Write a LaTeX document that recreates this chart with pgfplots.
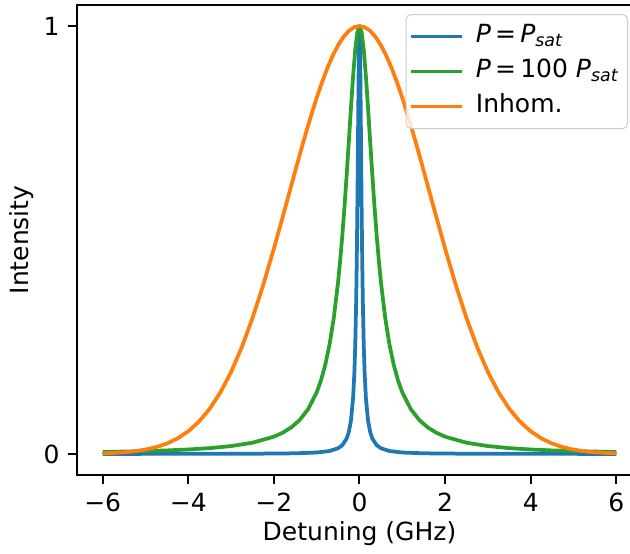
\documentclass[border=0pt]{standalone}
\usepackage{fontspec}
\setmainfont{DejaVu Sans}
\usepackage{pgfplots}
\pgfplotsset{compat=1.18}
\definecolor{c0}{HTML}{1F77B4}
\definecolor{c1}{HTML}{FF7F0E}
\definecolor{c2}{HTML}{2CA02C}
\begin{document}
\fontsize{10bp}{12bp}\selectfont
\begin{tikzpicture}
\begin{axis}[
  scale only axis, width=226bp, height=188.3bp,
  xmin=-6.6, xmax=6.6, ymin=-0.05, ymax=1.05,
  xtick={-6,-4,-2,0,2,4,6}, xticklabels={−6,−4,−2,0,2,4,6},
  ytick={0,1}, yticklabels={0,1},
  tick pos=left, tick align=outside, major tick length=3.5bp,
  every tick/.style={black, line width=0.8bp},
  axis line style={line width=0.8bp},
  xlabel={Detuning (GHz)}, ylabel={Intensity},
  every axis x label/.style={at={(rel axis cs:0.5,0)}, yshift=-23.4bp, anchor=center},
  every axis y label/.style={at={(rel axis cs:0,0.5)}, xshift=-22bp, rotate=90, anchor=center},
  legend cell align=left,
  legend style={at={(1,1)}, anchor=north east, xshift=-5.6bp, yshift=-3.8bp,
    draw=black!20, rounded corners=2bp, fill=white, fill opacity=0.8, text opacity=1,
    inner xsep=1.2bp, inner ysep=1.8bp, row sep=0bp,
    nodes={inner xsep=2bp, inner ysep=2bp, text height=7.5bp, text depth=2.5bp}},
  legend image code/.code={\draw[#1] (0bp,0bp) -- (20.4bp,0bp); \path (23.2bp,0bp);},
  every axis plot/.append style={line width=1.5bp, line join=round},
]
\addplot[c0] coordinates {
(-6,0.00009) (-4,0.00021) (-3,0.00037) (-2,0.00084) (-1.5,0.00149) (-1,0.00334) (-0.7,0.00682) (-0.5,0.0133) (-0.4,0.0206) (-0.3,0.0360) (-0.25,0.0511) (-0.2,0.0776) (-0.15,0.1301) (-0.12,0.1894) (-0.1,0.2517) (-0.08,0.3445) (-0.07,0.4070) (-0.06,0.4831) (-0.05,0.5737) (-0.04,0.6777) (-0.03,0.7889) (-0.02,0.8937) (-0.01,0.9711) (0,1)
(0.01,0.9711) (0.02,0.8937) (0.03,0.7889) (0.04,0.6777) (0.05,0.5737) (0.06,0.4831) (0.07,0.4070) (0.08,0.3445) (0.1,0.2517) (0.12,0.1894) (0.15,0.1301) (0.2,0.0776) (0.25,0.0511) (0.3,0.0360) (0.4,0.0206) (0.5,0.0133) (0.7,0.00682) (1,0.00334) (1.5,0.00149) (2,0.00084) (3,0.00037) (4,0.00021) (6,0.00009)
};
\addlegendentry{\textit{P}\,=\,\textit{P}\textsubscript{\textit{sat}}}
\addplot[c2] coordinates {
(-6,0.00465) (-5.5,0.00553) (-5,0.00668) (-4.5,0.00823) (-4,0.01040) (-3.5,0.01354) (-3,0.01834) (-2.5,0.02619) (-2,0.04033) (-1.8,0.04932) (-1.6,0.06162) (-1.4,0.07899) (-1.2,0.10453) (-1,0.14391) (-0.9,0.17186) (-0.8,0.20802) (-0.7,0.25543) (-0.6,0.31832) (-0.5,0.40205) (-0.45,0.45359) (-0.4,0.51235) (-0.35,0.57845) (-0.3,0.65130) (-0.25,0.72897) (-0.2,0.80786) (-0.15,0.88195) (-0.1,0.94385) (-0.05,0.98535) (0,1)
(0.05,0.98535) (0.1,0.94385) (0.15,0.88195) (0.2,0.80786) (0.25,0.72897) (0.3,0.65130) (0.35,0.57845) (0.4,0.51235) (0.45,0.45359) (0.5,0.40205) (0.6,0.31832) (0.7,0.25543) (0.8,0.20802) (0.9,0.17186) (1,0.14391) (1.2,0.10453) (1.4,0.07899) (1.6,0.06162) (1.8,0.04932) (2,0.04033) (2.5,0.02619) (3,0.01834) (3.5,0.01354) (4,0.01040) (4.5,0.00823) (5,0.00668) (5.5,0.00553) (6,0.00465)
};
\addlegendentry{\textit{P}\,=\,100 \textit{P}\textsubscript{\textit{sat}}}
\addplot[c1] coordinates {
(-6,0.00134) (-5.75,0.00231) (-5.5,0.00387) (-5.25,0.00634) (-5,0.01014) (-4.75,0.01587) (-4.5,0.02426) (-4.25,0.03626) (-4,0.05295) (-3.75,0.07557) (-3.5,0.10542) (-3.25,0.14373) (-3,0.19148) (-2.75,0.24935) (-2.5,0.31733) (-2.25,0.39464) (-2,0.47970) (-1.75,0.56983) (-1.5,0.66150) (-1.375,0.70665) (-1.25,0.75056) (-1.125,0.79259) (-1,0.83223) (-0.875,0.86883) (-0.75,0.90185) (-0.625,0.93077) (-0.5,0.95513) (-0.375,0.97450) (-0.25,0.98859) (-0.125,0.99713) (0,1)
(0.125,0.99713) (0.25,0.98859) (0.375,0.97450) (0.5,0.95513) (0.625,0.93077) (0.75,0.90185) (0.875,0.86883) (1,0.83223) (1.125,0.79259) (1.25,0.75056) (1.375,0.70665) (1.5,0.66150) (1.75,0.56983) (2,0.47970) (2.25,0.39464) (2.5,0.31733) (2.75,0.24935) (3,0.19148) (3.25,0.14373) (3.5,0.10542) (3.75,0.07557) (4,0.05295) (4.25,0.03626) (4.5,0.02426) (4.75,0.01587) (5,0.01014) (5.25,0.00634) (5.5,0.00387) (5.75,0.00231) (6,0.00134)
};
\addlegendentry{Inhom.}
\end{axis}
\pgfresetboundingbox
\path[use as bounding box] ([shift={(-30.8bp,-31.4bp)}]current axis.south west) rectangle ([shift={(-4.8bp,1.84bp)}]current axis.north east);
\end{tikzpicture}
\end{document}
